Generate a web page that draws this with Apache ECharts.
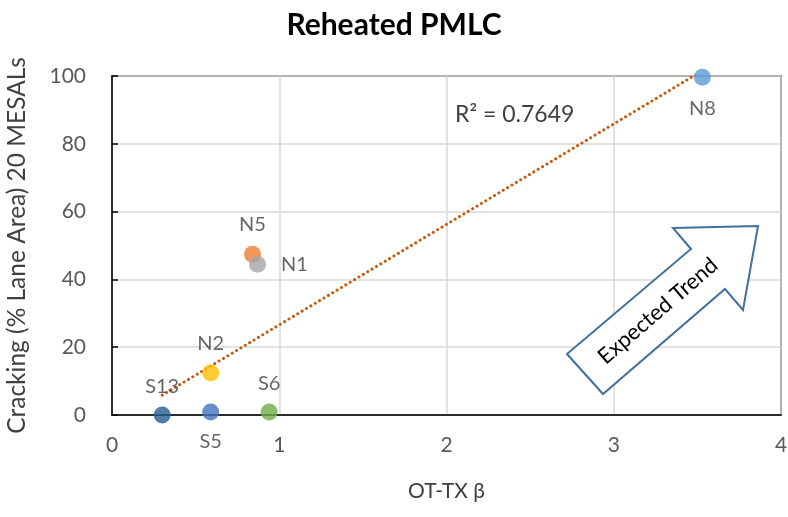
<!DOCTYPE html>
<html>
<head>
<meta charset="utf-8">
<script src="https://cdn.jsdelivr.net/npm/echarts@6/dist/echarts.min.js"></script>
<style>html,body{margin:0;padding:0;background:#fff}#c{width:788px;height:517px}</style>
</head>
<body>
<div id="c"></div>
<script>
const titleText = 'Reheated PMLC';
const xAxisName = 'OT-TX β';
const yAxisName = 'Cracking (% Lane Area) 20 MESALs';
const pointNames = ['S13', 'S5', 'S6', 'N2', 'N5', 'N1', 'N8'];
const xValues = [0.30, 0.59, 0.94, 0.59, 0.84, 0.87, 3.53];
const yValues = [0, 0.9, 0.9, 12.4, 47.4, 44.5, 99.6];
const pointColors = ['#255e91', '#4472c4', '#70ad47', '#ffc000', '#ed7d31', '#a5a5a5', '#5b9bd5'];
const labelPositions = ['top', 'bottom', 'top', 'top', 'top', 'right', 'bottom'];
const labelDistances = [10, 11, 10, 11, 11, 15, 13];
const r2Text = 'R² = 0.7649';
const arrowText = 'Expected Trend';

const FONT = 'Lato, "Open Sans", sans-serif';

// linear regression (Excel trendline)
const n = xValues.length;
const mx = xValues.reduce((a, b) => a + b, 0) / n;
const my = yValues.reduce((a, b) => a + b, 0) / n;
let sxy = 0, sxx = 0;
for (let i = 0; i < n; i++) { sxy += (xValues[i] - mx) * (yValues[i] - my); sxx += (xValues[i] - mx) ** 2; }
const slope = sxy / sxx;
const intercept = my - slope * mx;
const xMin = Math.min(...xValues), xMax = Math.max(...xValues);
const trendData = [[xMin, intercept + slope * xMin], [xMax, intercept + slope * xMax]];

const scatterData = pointNames.map((nm, i) => ({
  name: nm,
  value: [xValues[i], yValues[i]],
  itemStyle: { color: pointColors[i] },
  label: {
    show: true,
    formatter: nm,
    position: labelPositions[i],
    distance: labelDistances[i],
    fontSize: 20,
    fontFamily: FONT,
    color: '#404040'
  }
}));

const chart = echarts.init(document.getElementById('c'), null, { renderer: 'canvas' });
chart.setOption({
  animation: false,
  title: {
    text: titleText,
    left: 'center',
    top: 5,
    textStyle: { fontSize: 30, fontWeight: 'bold', fontFamily: FONT, color: '#000' }
  },
  grid: { left: 112, right: 7, top: 76, bottom: 102, containLabel: false, outerBoundsMode: 'none', show: true, borderColor: '#000', borderWidth: 1.5, backgroundColor: 'transparent' },
  xAxis: {
    type: 'value', min: 0, max: 4, interval: 1,
    name: xAxisName, nameLocation: 'middle', nameGap: 66,
    nameTextStyle: { fontSize: 21, fontFamily: FONT, color: '#404040' },
    axisLine: { show: true, lineStyle: { color: '#000', width: 1.5 } },
    axisTick: { show: false },
    axisLabel: { fontSize: 21, fontFamily: FONT, color: '#595959', margin: 20 },
    splitLine: { show: true, lineStyle: { color: '#d9d9d9', width: 1.5 } }
  },
  yAxis: {
    type: 'value', min: 0, max: 100, interval: 20,
    name: yAxisName, nameLocation: 'middle', nameGap: 82, nameRotate: 90,
    nameTextStyle: { fontSize: 24.5, fontFamily: FONT, color: '#404040' },
    axisLine: { show: true, lineStyle: { color: '#000', width: 1.5 } },
    axisTick: { show: true, inside: true, length: 6, lineStyle: { color: '#000', width: 1.5 } },
    axisLabel: { fontSize: 21, fontFamily: FONT, color: '#595959', margin: 26 },
    splitLine: { show: true, lineStyle: { color: '#d9d9d9', width: 1.5 } }
  },
  graphic: [
    {
      type: 'text', left: 455, top: 103, z: 10,
      style: { text: r2Text, fontSize: 23, fontFamily: FONT, fill: '#404040' }
    },
    {
      type: 'polygon', z: 10,
      shape: { points: [[567, 354], [691, 249], [673, 228], [758, 226], [743, 310], [725, 289], [603, 394]] },
      style: { fill: '#fff', stroke: '#41719c', lineWidth: 2 }
    },
    {
      type: 'text', z: 11, x: 658, y: 311, rotation: 0.71,
      style: { text: arrowText, fontSize: 22, fontFamily: FONT, fill: '#000', align: 'center', verticalAlign: 'middle' }
    }
  ],
  series: [
    {
      type: 'line', data: trendData, showSymbol: false, symbol: 'none', silent: true, z: 2,
      lineStyle: { color: '#c55a11', width: 3, type: [0.1, 5], cap: 'round' }
    },
    {
      type: 'scatter', data: scatterData, symbolSize: 17, z: 3
    }
  ]
});
</script>
</body>
</html>
